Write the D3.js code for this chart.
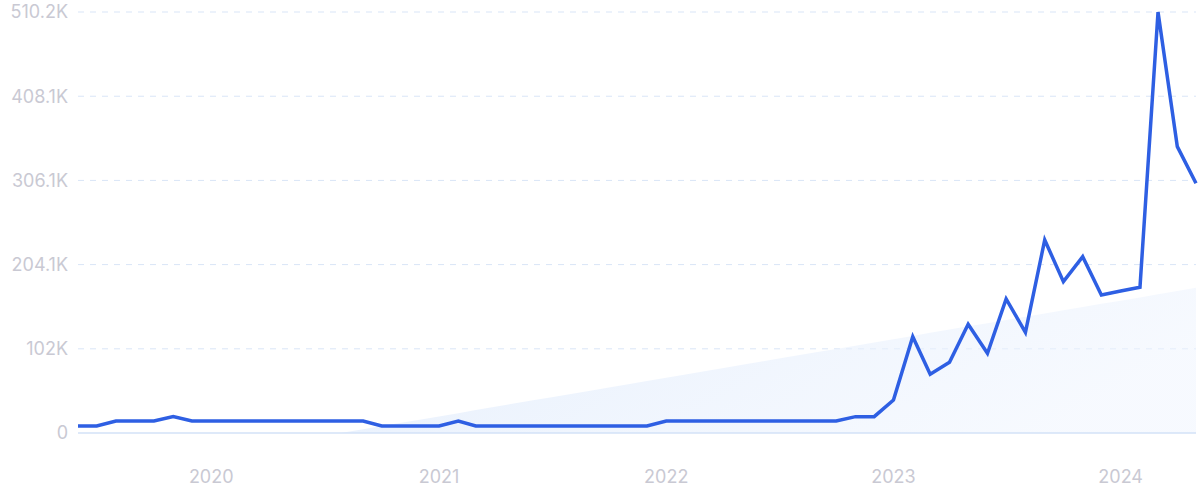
<!DOCTYPE html>
<html><head><meta charset="utf-8">
<script src="https://cdn.jsdelivr.net/npm/d3@7/dist/d3.min.js"></script>
<style>
html,body{margin:0;padding:0;background:#fff;}
svg{display:block;font-family:Inter,"Noto Sans",sans-serif;}
</style></head><body>
<svg id="chart" width="1200" height="499"></svg>
<script>
// Monthly data, Jun 2019 – May 2024
const startMonth = "2019-06";
const values = [
  8500, 8500, 14500, 14500, 14500, 19800, 14500,            // Jun-Dec 2019
  14500, 14500, 14500, 14500, 14500, 14500, 14500, 14500, 14500, 8500, 8500, 8500, // 2020
  8500, 14500, 8500, 8500, 8500, 8500, 8500, 8500, 8500, 8500, 8500, 8500,           // 2021
  14500, 14500, 14500, 14500, 14500, 14500, 14500, 14500, 14500, 14500, 19800, 19800, // 2022
  40000, 116700, 71100, 85700, 131700, 96600, 162400, 122000, 233900, 183400, 213700, 167300, // 2023
  172000, 176600, 510200, 347000, 302600                    // Jan-May 2024
];
const yTicks = [0, 102000, 204100, 306100, 408100, 510200];
const yTickLabels = ["0", "102K", "204.1K", "306.1K", "408.1K", "510.2K"];
const xTickYears = [2020, 2021, 2022, 2023, 2024];
const trendEnds = [-54000, 176000]; // trend values at first and last month

const svg = d3.select("#chart");
const m = {left: 78, right: 4, top: 12, bottom: 66};
const W = 1200, H = 499;

const parse = d3.timeParse("%Y-%m");
const t0 = parse(startMonth);
const data = values.map((v, i) => ({date: d3.timeMonth.offset(t0, i), value: v}));

const x = d3.scaleTime()
  .domain([data[0].date, data[data.length - 1].date])
  .range([m.left, W - m.right]);
const y = d3.scaleLinear().domain([0, 510200]).range([H - m.bottom, m.top]);

// gradient for trend area
const defs = svg.append("defs");
const grad = defs.append("linearGradient").attr("id", "tg")
  .attr("x1", "0%").attr("y1", "0%").attr("x2", "100%").attr("y2", "30%");
grad.append("stop").attr("offset", "0%").attr("stop-color", "#dce9fb").attr("stop-opacity", 0.9);
grad.append("stop").attr("offset", "100%").attr("stop-color", "#eef4fe").attr("stop-opacity", 0.5);
defs.append("clipPath").attr("id", "clipAbove").append("rect")
  .attr("x", m.left).attr("y", 0).attr("width", W - m.left - m.right).attr("height", y(0));

// gridlines
svg.append("g").selectAll("line").data(yTicks.slice(1)).join("line")
  .attr("x1", m.left).attr("x2", W - m.right)
  .attr("y1", d => y(d)).attr("y2", d => y(d))
  .attr("stroke", "#d9e5f7").attr("stroke-width", 1).attr("stroke-dasharray", "6,6");

// trend area
const n = data.length;
const trend = data.map((d, i) => ({date: d.date, value: trendEnds[0] + (trendEnds[1] - trendEnds[0]) * i / (n - 1)}));
svg.append("path").datum(trend)
  .attr("clip-path", "url(#clipAbove)")
  .attr("fill", "url(#tg)")
  .attr("d", d3.area().x(d => x(d.date)).y0(y(0)).y1(d => y(d.value)));

// baseline
svg.append("line").attr("x1", m.left).attr("x2", W - m.right)
  .attr("y1", y(0)).attr("y2", y(0)).attr("stroke", "#d3e2f7").attr("stroke-width", 1.5);

// y labels
svg.append("g").selectAll("text").data(yTicks).join("text")
  .attr("x", m.left - 10).attr("y", d => y(d)).attr("dy", "0.35em")
  .attr("text-anchor", "end").attr("fill", "#c9c9d3").attr("font-size", 18)
  .text((d, i) => yTickLabels[i]);

// x labels
svg.append("g").selectAll("text").data(xTickYears).join("text")
  .attr("x", d => x(new Date(d, 0, 1))).attr("y", 477).attr("dy", "0.35em")
  .attr("text-anchor", "middle").attr("fill", "#c9c9d3").attr("font-size", 18)
  .text(d => d);

// line
svg.append("path").datum(data)
  .attr("fill", "none").attr("stroke", "#2e5fe3").attr("stroke-width", 3.5)
  .attr("stroke-linejoin", "miter").attr("stroke-linecap", "butt")
  .attr("d", d3.line().x(d => x(d.date)).y(d => y(d.value)));
</script>
</body></html>
